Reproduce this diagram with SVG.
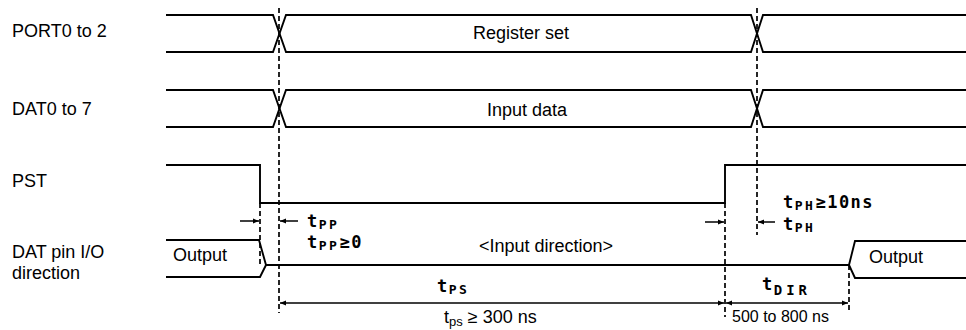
<svg xmlns="http://www.w3.org/2000/svg" width="966" height="330" viewBox="0 0 966 330">
<style>
.w{fill:none;stroke:#000;stroke-width:1.9;stroke-linejoin:miter}
.d{fill:none;stroke:#000;stroke-width:1.7;stroke-dasharray:5 3}
.a{fill:none;stroke:#000;stroke-width:1.5}
.lbl{font-family:"Liberation Sans",Arial,sans-serif;font-size:18px;fill:#000}
.sm{font-family:"Liberation Sans",Arial,sans-serif;font-size:16px;fill:#000}
.tm{font-family:"DejaVu Sans Mono",monospace;font-weight:bold;font-size:17px;letter-spacing:1.5px;fill:#000}
.sub{font-size:13px;letter-spacing:2.5px}
</style>
<defs>
<marker id="ah" viewBox="0 0 10 10" refX="10" refY="5" markerWidth="9" markerHeight="6" markerUnits="userSpaceOnUse" orient="auto">
<path d="M0,1 L10,5 L0,9 Z" fill="#000"/>
</marker>
</defs>
<rect width="966" height="330" fill="#fff"/>

<g id="labels">
<text class="lbl" x="12" y="37">PORT0 to 2</text>
<text class="lbl" x="12" y="115">DAT0 to 7</text>
<text class="lbl" x="12" y="187">PST</text>
<text class="lbl" x="12" y="258">DAT pin I/O</text>
<text class="lbl" x="12" y="279">direction</text>
</g>

<g id="port">
<path class="w" d="M166,15 H273 L286,52 H751 L763,15 H966"/>
<path class="w" d="M166,52 H273 L286,15 H751 L763,52 H966"/>
<text class="lbl" x="521" y="39" text-anchor="middle">Register set</text>
</g>

<g id="dat">
<path class="w" d="M166,90 H273 L286,127 H751 L763,90 H966"/>
<path class="w" d="M166,127 H273 L286,90 H751 L763,127 H966"/>
<text class="lbl" x="527" y="116" text-anchor="middle">Input data</text>
</g>

<g id="pst">
<path class="w" d="M166,165 H260 V203 H725 V165 H966"/>
</g>

<g id="dir">
<path class="w" d="M166,240 H259 L266,265 L259,240"/>
<path class="w" d="M166,277 H260 L266,265 H849 L855,241 H966"/>
<path class="w" d="M849,265 L855,278 H966"/>
<text class="lbl" x="173" y="261">Output</text>
<text class="lbl" x="869" y="263">Output</text>
<text class="lbl" x="479" y="252">&lt;Input direction&gt;</text>
</g>

<g id="connectors">
<line class="d" x1="279" y1="8" x2="279" y2="313"/>
<line class="d" x1="757" y1="8" x2="757" y2="235"/>
<line class="d" x1="260" y1="203" x2="260" y2="265"/>
<line class="d" x1="725" y1="203" x2="725" y2="317"/>
<line class="d" x1="849" y1="265" x2="849" y2="310"/>
<line class="a" x1="240" y1="221" x2="259" y2="221" marker-end="url(#ah)"/>
<line class="a" x1="298" y1="221" x2="280" y2="221" marker-end="url(#ah)"/>
<line class="a" x1="705" y1="222" x2="724" y2="222" marker-end="url(#ah)"/>
<line class="a" x1="775" y1="222" x2="758" y2="222" marker-end="url(#ah)"/>
<line class="a" x1="502" y1="303" x2="280" y2="303" marker-end="url(#ah)"/>
<line class="a" x1="502" y1="303" x2="724" y2="303" marker-end="url(#ah)"/>
<line class="a" x1="787" y1="303" x2="726" y2="303" marker-end="url(#ah)"/>
<line class="a" x1="787" y1="303" x2="848" y2="303" marker-end="url(#ah)"/>
</g>

<g id="timing">
<text class="tm" x="307" y="227">t<tspan class="sub" dy="2">PP</tspan></text>
<text class="tm" x="307" y="248">t<tspan class="sub" dy="2">PP</tspan><tspan dy="-2">≥0</tspan></text>
<text class="tm" x="783" y="208">t<tspan class="sub" dy="2">PH</tspan><tspan dy="-2">≥10ns</tspan></text>
<text class="tm" x="783" y="230">t<tspan class="sub" dy="2">PH</tspan></text>
<text class="tm" x="437" y="292">t<tspan class="sub" dy="2">PS</tspan></text>
<text class="tm" x="762" y="290">t<tspan class="sub" style="font-size:14px;letter-spacing:4px" dy="5">DIR</tspan></text>
<text class="lbl" x="444" y="323">t<tspan style="font-size:13px" dy="3">ps</tspan><tspan dy="-3"> ≥ 300 ns</tspan></text>
<text class="sm" x="732" y="322">500 to 800 ns</text>
</g>
</svg>
